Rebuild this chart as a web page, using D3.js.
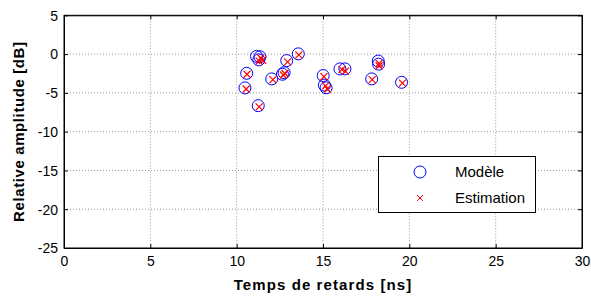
<!DOCTYPE html>
<html><head><meta charset="utf-8">
<script src="https://cdn.jsdelivr.net/npm/d3@7"></script>
<style>body{margin:0;background:#fff}svg{display:block}text{font-family:"Liberation Sans",Arial,sans-serif}</style>
</head><body><svg id="c" width="591" height="297"></svg>
<script>
const modelDelay = [10.58,10.48,11.25,11.15,11.35,11.28,12.03,12.65,12.75,12.9,13.57,15.01,15.08,15.18,15.98,16.27,18.2,18.22,17.82,19.55];
const modelAmp   = [-2.48,-4.36,-6.65,-0.3,-0.35,-0.75,-3.2,-2.6,-2.4,-0.84,0.03,-2.77,-4.0,-4.35,-1.91,-1.91,-0.9,-1.3,-3.2,-3.64];
const estDelay   = [10.6,10.55,11.3,11.4,11.5,11.3,12.1,12.7,12.8,12.95,13.6,15.05,15.15,15.25,16.1,16.3,18.25,18.25,17.85,19.6];
const estAmp     = [-2.6,-4.5,-6.8,-0.5,-0.8,-0.9,-3.3,-2.7,-2.5,-1.0,-0.1,-2.9,-4.1,-4.5,-2.0,-2.2,-1.2,-1.5,-3.3,-3.75];
const xTicks = [0,5,10,15,20,25,30];
const yTicks = [5,0,-5,-10,-15,-20,-25];
const legendLabels = ["Modèle","Estimation"];
const xLabel = "Temps de retards [ns]";
const yLabel = "Relative amplitude [dB]";

const svg = d3.select("#c");
const L=64,R=582,T=15.3,B=248;
const x = d3.scaleLinear().domain([0,30]).range([L,R]);
const y = d3.scaleLinear().domain([-25,5]).range([B,T]);

// grid
const g = svg.append("g");
g.selectAll(".gx").data(xTicks.slice(1,-1)).join("line")
  .attr("x1",d=>x(d)).attr("x2",d=>x(d)).attr("y1",T).attr("y2",B)
  .attr("stroke","#999").attr("stroke-width",1).attr("stroke-dasharray","1,2");
g.selectAll(".gy").data(yTicks.slice(1,-1)).join("line")
  .attr("y1",d=>y(d)).attr("y2",d=>y(d)).attr("x1",L).attr("x2",R)
  .attr("stroke","#999").attr("stroke-width",1).attr("stroke-dasharray","1,2");

// axes
const fmt = d=>String(d);
const xa = svg.append("g").attr("transform",`translate(0,${B})`)
  .call(d3.axisBottom(x).tickValues(xTicks).tickFormat(fmt).tickSizeInner(-4).tickSizeOuter(0).tickPadding(8));
const ya = svg.append("g").attr("transform",`translate(${L},0)`)
  .call(d3.axisLeft(y).tickValues(yTicks).tickFormat(fmt).tickSizeInner(-4).tickSizeOuter(0).tickPadding(6));
svg.append("g").attr("transform",`translate(0,${T})`)
  .call(d3.axisTop(x).tickValues(xTicks).tickSizeInner(-4).tickSizeOuter(0).tickFormat(""));
svg.append("g").attr("transform",`translate(${R},0)`)
  .call(d3.axisRight(y).tickValues(yTicks).tickSizeInner(-4).tickSizeOuter(0).tickFormat(""));
svg.selectAll(".domain").attr("stroke","#000");
svg.selectAll(".tick line").attr("stroke","#000");
svg.selectAll(".tick text").attr("font-size",14).attr("fill","#000").attr("font-family","Liberation Sans, Arial, sans-serif");
ya.selectAll(".tick text").attr("dy","0.35em");

// box
svg.append("rect").attr("x",L).attr("y",T).attr("width",R-L).attr("height",B-T)
  .attr("fill","none").attr("stroke","#000").attr("stroke-width",1);

// data
const pts = svg.append("g");
pts.selectAll("circle").data(modelDelay.map((d,i)=>[d,modelAmp[i]])).join("circle")
  .attr("cx",d=>x(d[0])).attr("cy",d=>y(d[1])).attr("r",6)
  .attr("fill","none").attr("stroke","#0000ff").attr("stroke-width",1);
const s=3.5;
const cr = pts.selectAll("g.cr").data(estDelay.map((d,i)=>[d,estAmp[i]])).join("g")
  .attr("transform",d=>`translate(${x(d[0])},${y(d[1])})`);
cr.append("line").attr("x1",-s).attr("y1",-s).attr("x2",s).attr("y2",s).attr("stroke","#ff0000").attr("stroke-width",1.2);
cr.append("line").attr("x1",-s).attr("y1",s).attr("x2",s).attr("y2",-s).attr("stroke","#ff0000").attr("stroke-width",1.2);

// labels
svg.append("text").attr("x",(L+R)/2).attr("y",290).attr("text-anchor","middle")
  .attr("font-size",15).attr("font-weight","bold").attr("letter-spacing",1.1).text(xLabel);
svg.append("text").attr("transform",`translate(24,${(T+B)/2}) rotate(-90)`).attr("text-anchor","middle")
  .attr("font-size",15).attr("font-weight","bold").attr("letter-spacing",0.6).text(yLabel);

// legend
const lg = svg.append("g");
lg.append("rect").attr("x",378.5).attr("y",156.5).attr("width",157).attr("height",56)
  .attr("fill","#fff").attr("stroke","#000").attr("stroke-width",1);
lg.append("circle").attr("cx",420).attr("cy",172).attr("r",6).attr("fill","none").attr("stroke","#0000ff");
const lx=420, ly=198, ls=3;
lg.append("line").attr("x1",lx-ls).attr("y1",ly-ls).attr("x2",lx+ls).attr("y2",ly+ls).attr("stroke","#ff0000");
lg.append("line").attr("x1",lx-ls).attr("y1",ly+ls).attr("x2",lx+ls).attr("y2",ly-ls).attr("stroke","#ff0000");
lg.selectAll("text.lt").data(legendLabels).join("text")
  .attr("x",455).attr("y",(d,i)=>[172,198][i]).attr("dy","0.35em")
  .attr("font-size",15).text(d=>d);
</script></body></html>
